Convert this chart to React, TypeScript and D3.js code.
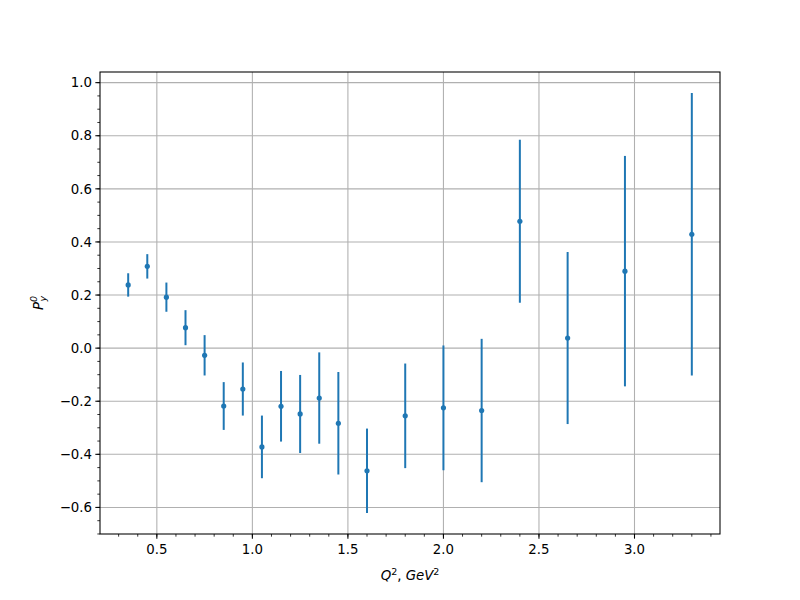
import React, { useEffect, useRef } from "react";
import * as d3 from "d3";

const q2 = [0.35, 0.45, 0.55, 0.65, 0.75, 0.85, 0.95, 1.05, 1.15, 1.25, 1.35, 1.45, 1.6, 1.8, 2.0, 2.2, 2.4, 2.65, 2.95, 3.3];
const py = [0.238, 0.308, 0.192, 0.077, -0.027, -0.218, -0.154, -0.372, -0.219, -0.248, -0.188, -0.283, -0.462, -0.255, -0.225, -0.235, 0.478, 0.038, 0.29, 0.429];
const pyErr = [0.044, 0.046, 0.055, 0.066, 0.076, 0.09, 0.1, 0.118, 0.133, 0.147, 0.172, 0.193, 0.159, 0.197, 0.235, 0.27, 0.307, 0.324, 0.434, 0.532];
const xTicks = [0.5, 1.0, 1.5, 2.0, 2.5, 3.0];
const yTicks = [-0.6, -0.4, -0.2, 0.0, 0.2, 0.4, 0.6, 0.8, 1.0];

const W = 800, H = 600;
const L = 100, R = 720, T = 72, B = 534;
const COLOR = "#1f77b4";
const FONT = "DejaVu Sans, sans-serif";

export default function App() {
  const ref = useRef<SVGSVGElement>(null);
  useEffect(() => {
    const svg = d3.select(ref.current);
    svg.selectAll("*").remove();
    const lo = d3.min(py.map((v, i) => v - pyErr[i]))!;
    const hi = d3.max(py.map((v, i) => v + pyErr[i]))!;
    const xr = d3.max(q2)! - d3.min(q2)!;
    const x = d3.scaleLinear().domain([d3.min(q2)! - 0.05 * xr, d3.max(q2)! + 0.05 * xr]).range([L, R]);
    const y = d3.scaleLinear().domain([lo - 0.05 * (hi - lo), hi + 0.05 * (hi - lo)]).range([B, T]);

    svg.append("rect").attr("width", W).attr("height", H).attr("fill", "white");

    // grid
    const g = svg.append("g");
    xTicks.forEach((t) => {
      g.append("line").attr("x1", x(t)).attr("x2", x(t)).attr("y1", T).attr("y2", B)
        .attr("stroke", "#b0b0b0").attr("stroke-width", 1.07);
    });
    yTicks.forEach((t) => {
      g.append("line").attr("x1", L).attr("x2", R).attr("y1", y(t)).attr("y2", y(t))
        .attr("stroke", "#b0b0b0").attr("stroke-width", 1.07);
    });

    // error bars
    const eb = svg.append("g");
    q2.forEach((q, i) => {
      eb.append("line").attr("x1", x(q)).attr("x2", x(q))
        .attr("y1", y(py[i] - pyErr[i])).attr("y2", y(py[i] + pyErr[i]))
        .attr("stroke", COLOR).attr("stroke-width", 2);
      eb.append("circle").attr("cx", x(q)).attr("cy", y(py[i])).attr("r", 2.6).attr("fill", COLOR);
    });

    // spines
    svg.append("rect").attr("x", L).attr("y", T).attr("width", R - L).attr("height", B - T)
      .attr("fill", "none").attr("stroke", "black").attr("stroke-width", 1.07);

    // x ticks
    const xMinor = d3.range(3, 35).map((d) => d / 10).filter((d) => x(d) >= L && x(d) <= R);
    xMinor.forEach((t) => {
      svg.append("line").attr("x1", x(t)).attr("x2", x(t)).attr("y1", B).attr("y2", B + 2.67)
        .attr("stroke", "black").attr("stroke-width", 0.8);
    });
    xTicks.forEach((t) => {
      svg.append("line").attr("x1", x(t)).attr("x2", x(t)).attr("y1", B).attr("y2", B + 4.67)
        .attr("stroke", "black").attr("stroke-width", 1.07);
      svg.append("text").attr("x", x(t)).attr("y", B + 20).attr("text-anchor", "middle")
        .attr("font-family", FONT).attr("font-size", 13.33).text(d3.format(".1f")(t));
    });

    // y ticks
    const yMinor = d3.range(-14, 21).map((d) => d * 0.05).filter((d) => y(d) >= T && y(d) <= B);
    yMinor.forEach((t) => {
      svg.append("line").attr("x1", L - 2.67).attr("x2", L).attr("y1", y(t)).attr("y2", y(t))
        .attr("stroke", "black").attr("stroke-width", 0.8);
    });
    yTicks.forEach((t) => {
      svg.append("line").attr("x1", L - 4.67).attr("x2", L).attr("y1", y(t)).attr("y2", y(t))
        .attr("stroke", "black").attr("stroke-width", 1.07);
      svg.append("text").attr("x", L - 8).attr("y", y(t)).attr("dy", "0.35em").attr("text-anchor", "end")
        .attr("font-family", FONT).attr("font-size", 13.33).text(d3.format(".1f")(t).replace("-", "\u2212"));
    });

    // x label
    const xl = svg.append("text").attr("x", (L + R) / 2).attr("y", 580).attr("text-anchor", "middle")
      .attr("font-family", FONT).attr("font-size", 13.33);
    xl.append("tspan").attr("font-style", "italic").text("Q");
    xl.append("tspan").attr("font-size", 9.5).attr("dy", -5).text("2");
    xl.append("tspan").attr("dy", 5).text(", ");
    xl.append("tspan").attr("font-style", "italic").text("GeV");
    xl.append("tspan").attr("font-size", 9.5).attr("dy", -5).text("2");

    // y label
    const yl = svg.append("text").attr("transform", `translate(43,${(T + B) / 2}) rotate(-90)`)
      .attr("text-anchor", "middle").attr("font-family", FONT).attr("font-size", 13.33).attr("font-style", "italic");
    yl.append("tspan").text("P");
    yl.append("tspan").attr("font-size", 9.5).attr("dy", -6).text("0");
    yl.append("tspan").attr("font-size", 9.5).attr("dx", -5.5).attr("dy", 9).text("y");
  }, []);
  return <svg ref={ref} width={W} height={H} style={{ display: "block", position: "absolute", left: 0, top: 0 }} />;
}
